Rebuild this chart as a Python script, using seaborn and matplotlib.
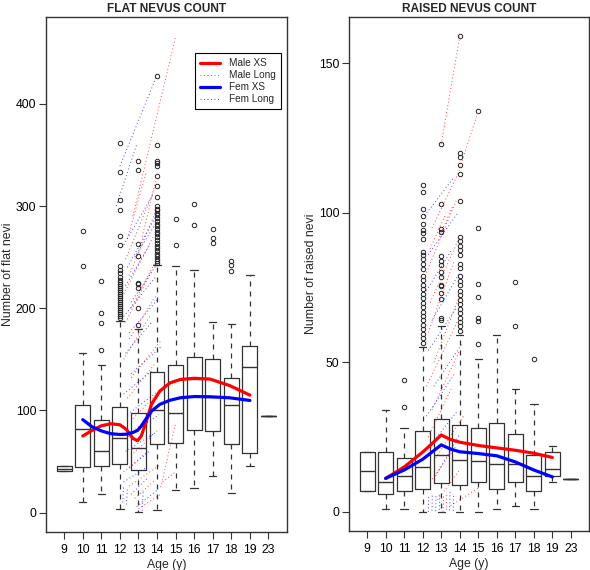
import numpy as np
import pandas as pd
import matplotlib
matplotlib.use('Agg')
import matplotlib.pyplot as plt
from matplotlib.lines import Line2D
import seaborn as sns

# age groups on the x axis (categorical)
ages = [9, 10, 11, 12, 13, 14, 15, 16, 17, 18, 19, 23]

# --- flat nevi: box summaries per age ---
flat_q1 = [41, 44.6, 45.6, 48, 41.7, 67.4, 68.4, 81, 80, 67.4, 58, 94.5]
flat_med = [43, 81.4, 60.6, 72.6, 63.5, 100, 97.7, 131, 113.5, 105, 143, 94.5]
flat_q3 = [46, 105, 90.5, 103, 97.7, 137.5, 144, 152, 150, 131.6, 163, 94.5]
flat_lo = [41, 10, 18, 4, 0.7, 2.6, 22, 24.4, 36, 19.5, 45.6, 94.5]
flat_hi = [46, 156, 144, 188, 180, 242, 241, 237, 187, 185, 233, 94.5]
flat_out = {
    10: [241, 276],
    11: [159, 185.7, 195.5, 227],
    12: [190, 192, 194, 196, 198, 200, 202, 204, 206, 208, 210, 212, 214, 216,
         218, 220, 222, 224, 226, 228, 231, 234, 237, 241, 261.6, 270.4, 296.5,
         305.6, 333.6, 361.7],
    13: [184, 200.7, 220, 223.5, 225, 251.5, 263, 335.6, 343.7],
    14: [244, 246, 248.6, 251, 253, 256, 258.7, 261, 264, 266.9, 270, 273, 275,
         277.5, 280, 282, 285, 288.6, 291, 293, 295.8, 297, 300, 308.5, 319.3,
         329, 338.8, 342, 344, 359.7, 427.5],
    15: [261.6, 287.7],
    16: [281.8, 301.7],
    17: [264, 268.8, 277.6],
    18: [236.2, 242.7, 246.6],
}

# --- raised nevi: box summaries per age ---
raised_q1 = [7, 5.9, 7, 7.8, 9.8, 9, 10, 7.8, 10, 7, 12, 11]
raised_med = [13.5, 10, 12, 15, 19, 17.3, 17, 16, 16, 12, 14.5, 11]
raised_q3 = [20, 20, 18, 27, 31, 29, 28, 29.6, 26, 19, 20, 11]
raised_lo = [7, 1, 1, 0, 0, 0, 0, 1, 2, 1, 10, 11]
raised_hi = [20, 34, 28, 55, 62, 59, 51, 59, 41, 36, 22, 11]
raised_out = {
    11: [35.2, 44.1],
    12: [56.5, 58, 59.5, 61, 62.5, 64, 65.5, 67, 68.5, 70, 71.5, 73, 74.5, 76,
         77.5, 79, 81.1, 82.8, 84.5, 86, 87, 91.2, 93.2, 94.2, 96.2, 99, 101.2,
         107, 109.2],
    13: [64, 65, 71.3, 73.3, 75.4, 75.9, 78.7, 80.2, 82.6, 84, 85.6, 93.7,
         94.7, 103, 123],
    14: [60.5, 62, 63.5, 65, 66.5, 68, 69.5, 71, 72.5, 74, 75.9, 77.2, 78.9,
         81.4, 82.8, 86, 87.5, 89, 90.5, 92, 104, 113.1, 116, 118.8, 119.9, 159],
    15: [56.1, 63.9, 65, 72, 76.1, 95, 134],
    17: [62, 76.9],
    18: [51],
}

# --- cross-sectional smooths ---
flat_xs_age = [10, 10.5, 11, 11.5, 12, 12.35, 12.7, 12.95, 13.15, 13.45, 13.7,
               14.15, 14.7, 15.25, 16, 16.85, 17.9, 19]
flat_male_xs = [75, 80.5, 85, 87, 86, 81.4, 72.6, 70.5, 75, 91, 106, 119, 127,
                130.3, 131.5, 130.7, 124.4, 115]
flat_fem_xs = [91, 84, 80, 77.3, 76.5, 76.8, 78.5, 80.5, 84.7, 93, 99.3, 106,
               110, 112.4, 113.6, 113.4, 112.4, 109.8]

raised_xs_age = [10, 11, 12, 12.5, 13, 13.5, 14, 15, 16, 17, 18, 19]
raised_male_xs = [11.2, 15, 20, 22.8, 25.7, 24.2, 23.3, 22.2, 21.4, 20.6, 19.6, 18.2]
raised_fem_xs = [11.2, 14, 17.6, 20, 22.4, 21, 20.1, 19.5, 18.75, 16.7, 14, 11.7]

# --- longitudinal trajectories: (age start, count start, age end, count end) ---
flat_male_long = [
    (12.7, 290, 15.0, 466), (12.4, 268, 13.4, 332), (12.3, 248, 13.9, 318),
    (12.5, 232, 14.0, 298), (12.2, 214, 13.8, 270), (12.6, 200, 14.1, 252),
    (12.3, 186, 13.7, 236), (12.5, 170, 14.0, 214), (12.2, 150, 13.6, 192),
    (12.6, 132, 14.2, 168), (12.4, 112, 13.9, 146), (12.7, 92, 14.3, 122),
    (12.3, 72, 13.8, 98), (12.6, 56, 14.0, 80), (12.2, 40, 13.5, 60),
    (12.5, 26, 14.1, 46), (12.8, 14, 13.9, 32), (13.0, 4, 14.2, 18),
    (14.2, 25, 15.0, 88), (14.3, 30, 15.0, 40), (13.2, 270, 14.0, 330),
]
flat_fem_long = [
    (12.0, 339, 14.0, 428), (11.8, 300, 12.9, 360), (12.2, 262, 13.8, 312),
    (12.4, 240, 14.0, 292), (12.3, 222, 13.6, 262), (12.6, 206, 14.1, 246),
    (12.2, 192, 13.9, 230), (12.5, 176, 14.0, 208), (12.3, 156, 13.7, 186),
    (12.6, 136, 14.2, 162), (12.2, 116, 13.8, 140), (12.4, 96, 14.0, 118),
    (12.7, 78, 14.1, 96), (12.3, 60, 13.9, 78), (12.5, 44, 13.6, 60),
    (12.2, 30, 13.4, 44), (12.6, 18, 13.5, 34), (12.9, 6, 14.0, 22),
    (12.15, 10, 12.2, 26), (12.35, 8, 12.4, 24), (13.2, 2, 13.25, 20),
    (12.8, 250, 13.9, 282),
]
raised_male_long = [
    (13.0, 123, 14.0, 159), (12.5, 95, 13.9, 113), (13.9, 113, 15.0, 134),
    (12.4, 88, 13.2, 99), (12.2, 80, 13.8, 104), (12.4, 70, 14.0, 92),
    (12.3, 60, 13.7, 84), (12.6, 50, 14.1, 74), (12.2, 42, 13.9, 64),
    (12.5, 34, 14.0, 54), (12.3, 25, 13.6, 42), (12.7, 18, 14.2, 32),
    (12.4, 10, 13.8, 22), (12.8, 4, 14.0, 14), (13.5, 2, 15.0, 8),
    (12.9, 92, 13.6, 102), (13.28, 0.6, 13.3, 6.4),
]
raised_fem_long = [
    (12.1, 99, 13.7, 112), (12.3, 86, 13.9, 100), (12.2, 74, 13.6, 88),
    (12.5, 64, 14.0, 80), (12.3, 54, 13.8, 68), (12.6, 42, 14.1, 56),
    (12.2, 32, 13.7, 46), (12.4, 22, 13.9, 34), (12.7, 12, 14.0, 26),
    (12.3, 0, 12.32, 5.5), (12.5, 0.4, 12.52, 6.2), (12.7, 0.2, 12.72, 5.8),
    (12.9, 0.7, 12.92, 6.5), (13.1, 0.1, 13.12, 5.2), (13.45, 0.5, 13.47, 6.8),
    (13.65, 0.3, 13.67, 5.6),
]

PAL = {'Male': '#ff0000', 'Female': '#0000ff'}
DOTS = (0, (1, 2.6))
INK = '#333333'

sns.set_theme(style='ticks')
plt.rcParams['font.family'] = ['Liberation Sans', 'DejaVu Sans']


def long_frame(male, female):
    rows = []
    for sex, segs in (('Male', male), ('Female', female)):
        for k, (a0, v0, a1, v1) in enumerate(segs):
            rows.append((f'{sex}{k}', sex, a0 - 9, v0))
            rows.append((f'{sex}{k}', sex, a1 - 9, v1))
    return pd.DataFrame(rows, columns=['id', 'sex', 'pos', 'value'])


def xs_frame(xs_age, male, female):
    pos = [a - 9 for a in xs_age]
    return pd.concat([
        pd.DataFrame({'pos': pos, 'value': male, 'sex': 'Male'}),
        pd.DataFrame({'pos': pos, 'value': female, 'sex': 'Female'}),
    ])


def draw_panel(ax, q1, med, q3, lo, hi, out, long_df, xs_df, title, ylabel, ylim, yticks):
    stats = []
    for i, a in enumerate(ages):
        stats.append(dict(q1=q1[i], med=med[i], q3=q3[i], whislo=lo[i], whishi=hi[i],
                          fliers=np.array(out.get(a, []))))
    ax.bxp(stats, positions=range(len(ages)), widths=0.8, capwidths=0.4,
           boxprops=dict(color=INK, lw=0.9),
           whiskerprops=dict(color=INK, lw=0.9, linestyle=(0, (4, 4))),
           capprops=dict(color=INK, lw=0.9),
           medianprops=dict(color=INK, lw=1.0),
           flierprops=dict(marker='o', markersize=3.2, markerfacecolor='none',
                           markeredgecolor='#222222', markeredgewidth=0.7))
    sns.lineplot(data=long_df, x='pos', y='value', units='id', estimator=None,
                 hue='sex', hue_order=['Male', 'Female'], palette=PAL,
                 linewidth=0.7, linestyle=DOTS, alpha=0.75, legend=False, ax=ax, zorder=3)
    sns.lineplot(data=xs_df, x='pos', y='value', hue='sex', hue_order=['Male', 'Female'],
                 palette=PAL, linewidth=2.3, legend=False, ax=ax, zorder=4)

    ax.set_xlim(-0.98, 11.98)
    ax.set_ylim(*ylim)
    ax.set_xticks(range(len(ages)))
    ax.set_xticklabels([str(a) for a in ages])
    ax.set_yticks(yticks)
    ax.tick_params(axis='both', length=5, width=0.8, color=INK, labelsize=8.8,
                   labelcolor='black')
    ax.tick_params(axis='x', pad=3.5)
    ax.tick_params(axis='y', pad=2)
    for sp in ax.spines.values():
        sp.set_color(INK)
        sp.set_linewidth(1.0)
    ax.set_xlabel('Age (y)', fontsize=8.8, labelpad=2.5)
    ax.set_ylabel(ylabel, fontsize=8.8, labelpad=1)
    ax.set_title(title, fontsize=8.6, fontweight='bold', pad=4)


fig = plt.figure(figsize=(5.9, 5.7), dpi=100)
ax1 = fig.add_axes([46 / 590, (570 - 531.7) / 570, (286.7 - 46) / 590, (531.7 - 17.3) / 570])
ax2 = fig.add_axes([349 / 590, (570 - 531) / 570, (589 - 349) / 590, (531 - 17.3) / 570])

draw_panel(ax1, flat_q1, flat_med, flat_q3, flat_lo, flat_hi, flat_out,
           long_frame(flat_male_long, flat_fem_long),
           xs_frame(flat_xs_age, flat_male_xs, flat_fem_xs),
           'FLAT NEVUS COUNT', 'Number of flat nevi', (-18.6, 484.6), [0, 100, 200, 300, 400])
draw_panel(ax2, raised_q1, raised_med, raised_q3, raised_lo, raised_hi, raised_out,
           long_frame(raised_male_long, raised_fem_long),
           xs_frame(raised_xs_age, raised_male_xs, raised_fem_xs),
           'RAISED NEVUS COUNT', 'Number of raised nevi', (-6.4, 165.4), [0, 50, 100, 150])

handles = [
    Line2D([], [], color=PAL['Male'], lw=2.3),
    Line2D([], [], color=PAL['Male'], lw=0.7, linestyle=DOTS, alpha=0.75),
    Line2D([], [], color=PAL['Female'], lw=2.3),
    Line2D([], [], color=PAL['Female'], lw=0.7, linestyle=DOTS, alpha=0.75),
]
leg = ax1.legend(handles, ['Male XS', 'Male Long', 'Fem XS', 'Fem Long'],
                 loc='upper right', bbox_to_anchor=(0.975, 0.93), fontsize=7.2,
                 frameon=True, fancybox=False, edgecolor='black', framealpha=1,
                 handlelength=2.0, handletextpad=0.9, labelspacing=0.2,
                 borderpad=0.5, borderaxespad=0)
leg.get_frame().set_linewidth(0.8)

fig.savefig('out.png', dpi=100)
